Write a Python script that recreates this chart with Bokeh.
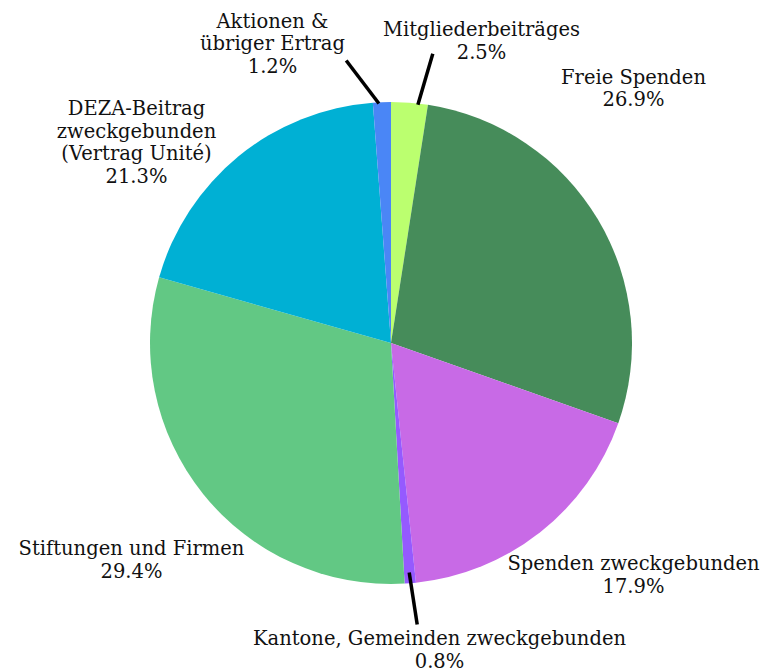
import math
from bokeh.plotting import figure
from bokeh.models import Range1d, ColumnDataSource
from bokeh.core.properties import value
from bokeh.embed import file_html
from bokeh.resources import INLINE

# ---- data (clockwise from 12 o'clock) ----
categories = [
    "Mitgliederbeiträges",
    "Freie Spenden",
    "Spenden zweckgebunden",
    "Kantone, Gemeinden zweckgebunden",
    "Stiftungen und Firmen",
    "DEZA-Beitrag\nzweckgebunden\n(Vertrag Unité)",
    "Aktionen &\nübriger Ertrag",
]
# slice sizes as drawn (share of circle, %)
slice_values = [2.45, 27.95, 17.95, 0.75, 30.3, 19.4, 1.2]
# percentages printed in the labels
label_pcts = ["2.5%", "26.9%", "17.9%", "0.8%", "29.4%", "21.3%", "1.2%"]
colors = ["#bbff6f", "#468c5a", "#c86ae6", "#955aff", "#62c884", "#00b0d4", "#4a86f6"]

# ---- layout ----
W, H = 768, 671
def fx(X):  # screen px -> data x
    return X
def fy(Y):  # screen px -> data y
    return H - Y

CX, CY, R = fx(390.5), fy(342.5), 241
label_anchor = [(481, 29.3), (633, 76.7), (633, 563), (439, 638),
                (131, 548), (136, 108.3), (272, 20.7)]
LINE_H = 22.5
# leader lines: (slice index, fraction within slice, radius factor, outer end in screen px)
leaders = [(0, 0.73, 0.995, (432.3, 53.3)),
           (6, 0.33, 0.995, (345.7, 60.0)),
           (3, 0.52, 0.955, (416.7, 624.0))]

p = figure(width=W, height=H, output_backend="svg", toolbar_location=None,
           x_range=Range1d(0, W), y_range=Range1d(0, H), min_border=0)
p.axis.visible = False
p.grid.visible = False
p.outline_line_color = None
p.background_fill_color = "white"
p.border_fill_color = "white"

total = sum(slice_values)
starts, ends = [], []
cum = 0.0
for v in slice_values:
    a0 = cum / total
    cum += v
    a1 = cum / total
    starts.append(math.pi / 2 - a1 * 2 * math.pi)
    ends.append(math.pi / 2 - a0 * 2 * math.pi)

src = ColumnDataSource(dict(x=[CX] * len(slice_values), y=[CY] * len(slice_values),
                            start=starts, end=ends, color=colors))
p.wedge(x="x", y="y", radius=R, start_angle="start", end_angle="end",
        fill_color="color", line_color=None, source=src)

# leader lines
for idx, frac, rf, (ox, oy) in leaders:
    ang = ends[idx] - frac * (ends[idx] - starts[idx])
    x0 = CX + R * rf * math.cos(ang)
    y0 = CY + R * rf * math.sin(ang)
    p.line([x0, fx(ox)], [y0, fy(oy)], line_color="black", line_width=3.5)

# labels
tx, ty, tt = [], [], []
for name, pct, (ax, ay) in zip(categories, label_pcts, label_anchor):
    lines = name.split("\n") + [pct]
    for i, ln in enumerate(lines):
        tx.append(fx(ax))
        ty.append(fy(ay + i * LINE_H))
        tt.append(ln)
p.text(x=tx, y=ty, text=tt, text_align="center", text_baseline="middle",
       text_font=value("DejaVu Serif"), text_font_size="19.5px", text_color="#111111")

open("out.html", "w").write(file_html(p, INLINE))
